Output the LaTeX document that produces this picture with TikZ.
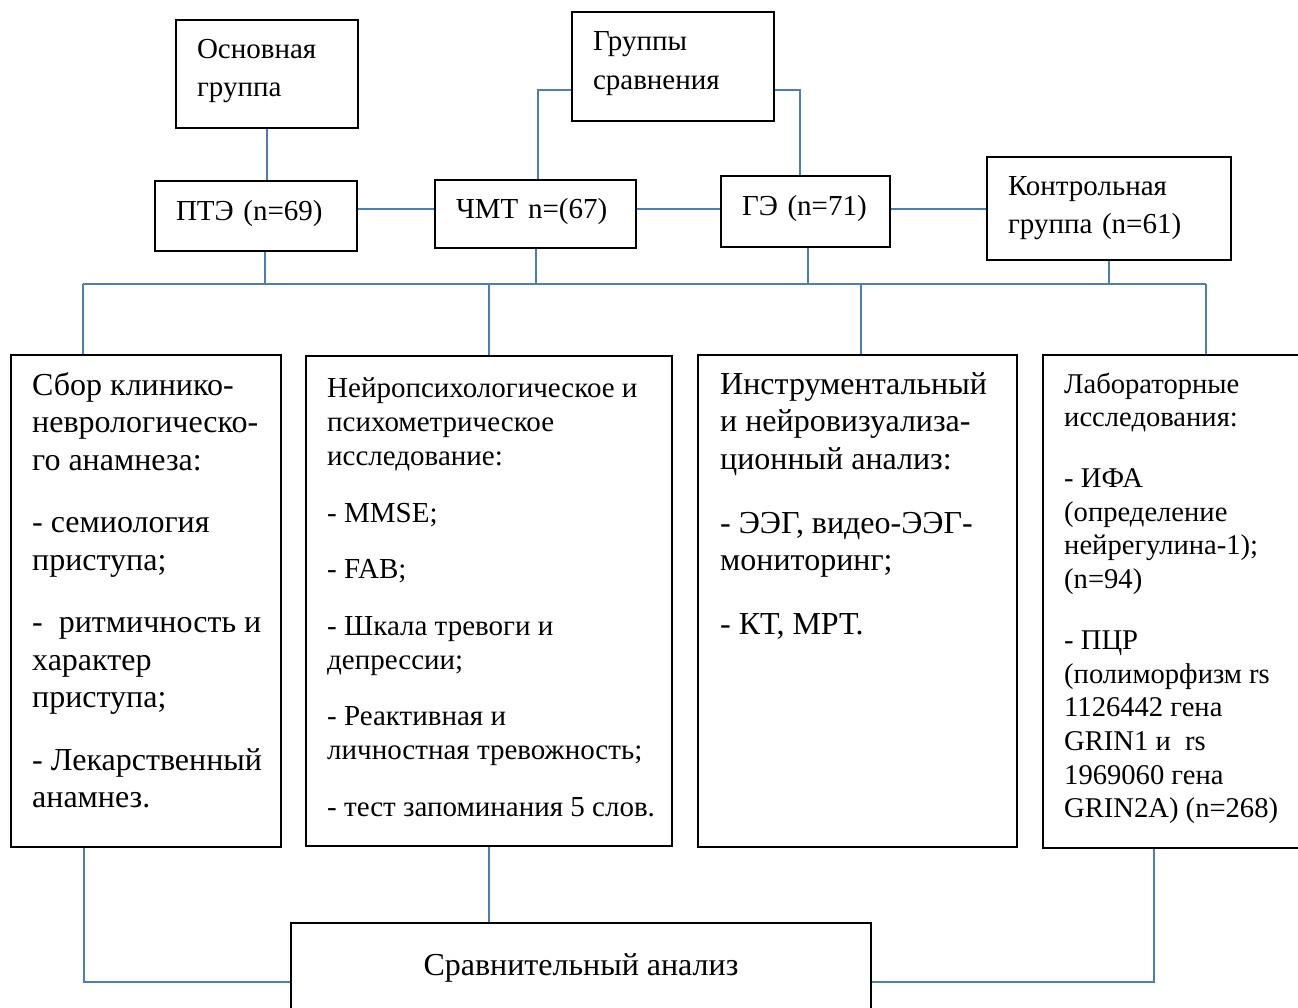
\documentclass[tikz,border=0pt]{standalone}
\usepackage{fontspec}
\setmainfont{Liberation Serif}
\definecolor{linkblue}{RGB}{74,126,187}
\newcommand{\fsize}[2]{\fontsize{#1}{#2}\selectfont}
\newcommand{\lowstrut}{\rule[-12pt]{0pt}{12pt}}
\tikzset{
  grpbox/.style={draw, line width=1.7pt, inner xsep=21pt, inner ysep=0pt, align=left},
  resbox/.style={draw, line width=1.7pt},
  txt/.style={inner sep=0pt, anchor=north west, align=left},
  link/.style={draw=linkblue, line width=2pt}
}

\begin{document}
\begin{tikzpicture}[x=1pt,y=-1pt]
        \useasboundingbox (0,0) rectangle (1298,1008);
        \clip (0,0) rectangle (1298,1008);
        % groups
        \node[grpbox, font=\fsize{29}{38}, text width=140pt, minimum height=108pt] (osn) at (267,74) {Основная\\группа\lowstrut};
        \node[grpbox, font=\fsize{29}{39}, text width=160pt, minimum height=109pt] (grp) at (673,66.5) {Группы\\сравнения\lowstrut};
        \node[grpbox, font=\fsize{29}{38}, text width=160pt, minimum height=70pt] (pte) at (256,216) {ПТЭ (n=69)\lowstrut};
        \node[grpbox, font=\fsize{29}{38}, text width=159pt, minimum height=68pt] (chmt) at (535.5,214) {ЧМТ n=(67)\lowstrut};
        \node[grpbox, font=\fsize{29}{38}, text width=127pt, minimum height=71pt] (ge) at (805.5,211.5) {ГЭ (n=71)\lowstrut};
        \node[grpbox, font=\fsize{29}{38}, text width=202pt, minimum height=103pt] (ctrl) at (1109,208.5) {Контрольная\\группа (n=61)};
        % studies
        \node[resbox, minimum width=270pt, minimum height=492pt] (sbor) at (146,601) {};
        \node[resbox, minimum width=366pt, minimum height=490pt] (neuro) at (489,601) {};
        \node[resbox, minimum width=319pt, minimum height=492pt] (instr) at (857.5,601) {};
        \node[resbox, minimum width=270pt, minimum height=493pt] (lab) at (1178,601.5) {};
        \node[resbox, minimum width=580pt, minimum height=90pt, font=\fsize{32}{38}] (cmp) at (581,968) {Сравнительный анализ};
        \node[txt, font=\fsize{32}{37.5}] (sbortxt) at (32,372) {Сбор клинико-\\неврологическо-\\го анамнеза:\\[25pt]
          - семиология\\приступа;\\[25pt]
          -~ ритмичность и\\характер\\приступа;\\[25pt]
          - Лекарственный\\анамнез.};
        \node[txt, font=\fsize{29}{34}] (neurotxt) at (327,377.5) {Нейропсихологическое и\\психометрическое\\исследование:\\[22.5pt]
          - MMSE;\\[22.5pt]
          - FAB;\\[22.5pt]
          - Шкала тревоги и\\депрессии;\\[22.5pt]
          - Реактивная и\\личностная тревожность;\\[22.5pt]
          - тест запоминания 5 слов.};
        \node[txt, font=\fsize{32}{37.5}] (instrtxt) at (720,372) {Инструментальный\\и нейровизуализа-\\ционный анализ:\\[26.5pt]
          - ЭЭГ, видео-ЭЭГ-\\мониторинг;\\[26.5pt]
          - КТ, МРТ.};
        \node[txt, font=\fsize{28.6}{33.7}] (labtxt) at (1064,372.5) {Лабораторные\\исследования:\\[27pt]
          - ИФА\\(определение\\нейрегулина-1);\\(n=94)\\[27pt]
          - ПЦР\\(полиморфизм rs\\1126442 гена\\GRIN1 и~ rs\\1969060 гена\\GRIN2A) (n=268)};
        % connectors
        \coordinate (mid) at (0,209);
        \coordinate (gL) at (538,90);
        \coordinate (gR) at (800,90);
        \coordinate (busL) at (83,284);
        \coordinate (busR) at (1206,284);
        \coordinate (jL) at (84,982);
        \coordinate (jR) at (1154,982);
        \path[link] (osn.south) -- (osn.south |- pte.north);
        \path[link] (pte.east |- mid) -- (chmt.west |- mid);
        \path[link] (chmt.east |- mid) -- (ge.west |- mid);
        \path[link] (ge.east |- mid) -- (ctrl.west |- mid);
        \path[link] (grp.west |- gL) -- (gL) -- (gL |- chmt.north);
        \path[link] (grp.east |- gR) -- (gR) -- (gR |- ge.north);
        \path[link] (busL) -- (busR);
        \path[link] ([xshift=9pt]pte.south) -- ([xshift=9pt]pte.south |- busL);
        \path[link] (chmt.south) -- (chmt.south |- busL);
        \path[link] ([xshift=2.5pt]ge.south) -- ([xshift=2.5pt]ge.south |- busL);
        \path[link] (ctrl.south) -- (ctrl.south |- busL);
        \path[link] (busL) -- (busL |- sbor.north);
        \path[link] (neuro.north |- busL) -- (neuro.north);
        \path[link] ([xshift=3.5pt]instr.north |- busL) -- ([xshift=3.5pt]instr.north);
        \path[link] (busR) -- (busR |- lab.north);
        \path[link] (jL |- sbor.south) -- (jL) -- (jL -| cmp.west);
        \path[link] (neuro.south) -- (neuro.south |- cmp.north);
        \path[link] (jR |- lab.south) -- (jR) -- (jR -| cmp.east);
\end{tikzpicture}
\end{document}
